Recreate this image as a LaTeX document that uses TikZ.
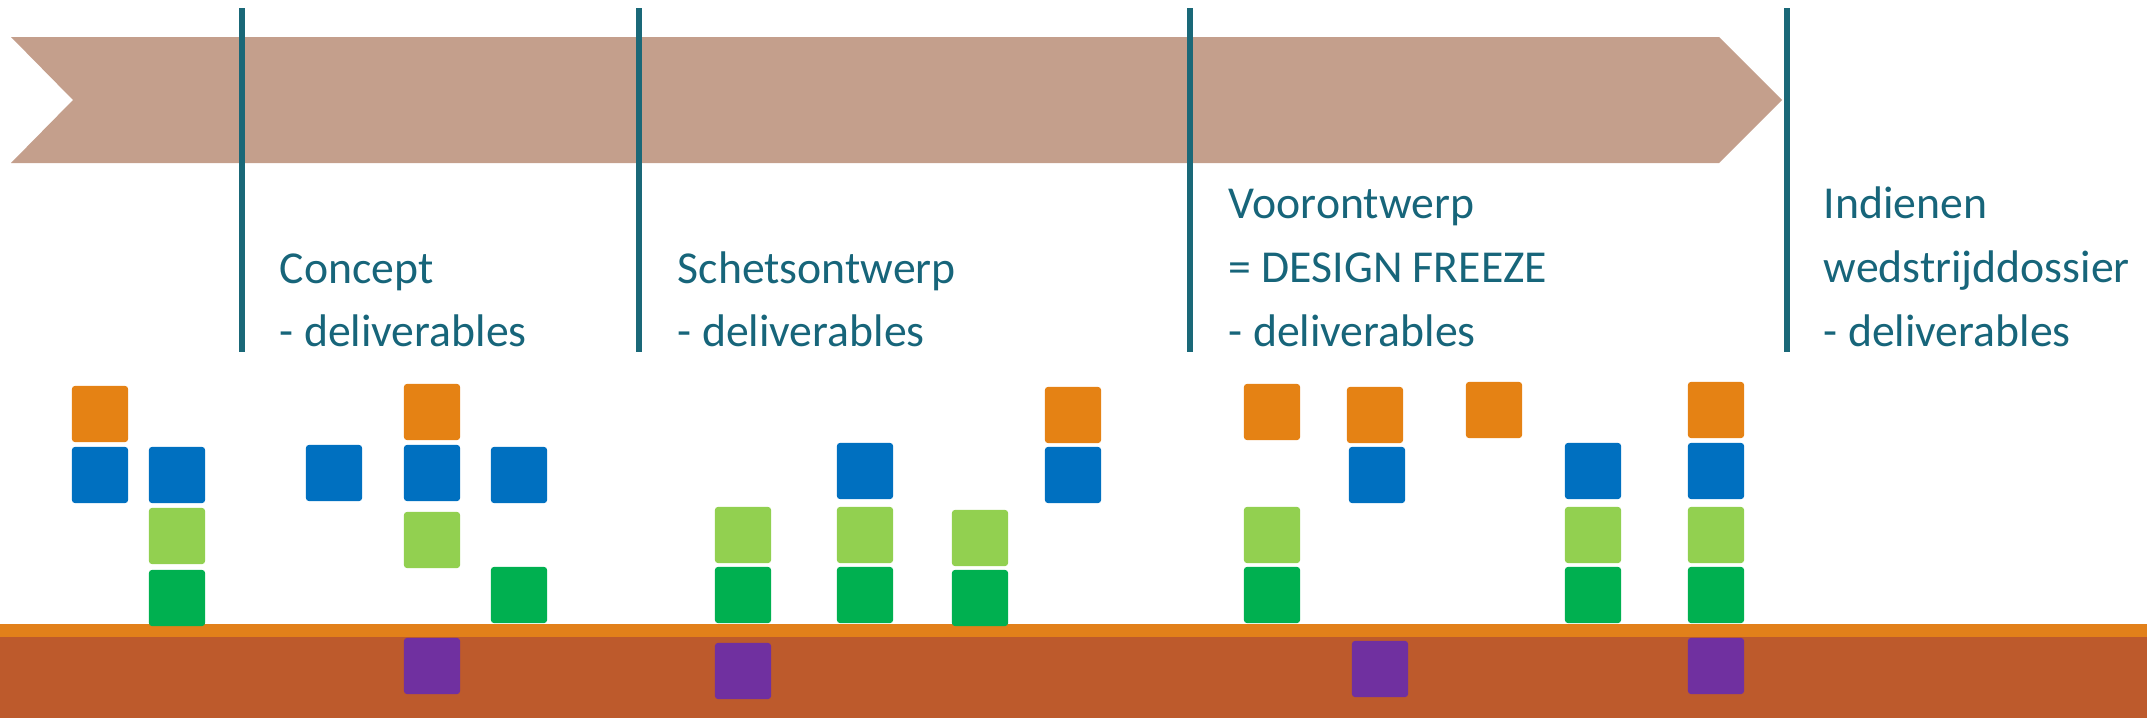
\documentclass[tikz,border=0pt]{standalone}
\usepackage{fontspec}
\setmainfont{Carlito}
\definecolor{arrowc}{HTML}{C49F8C}
\definecolor{teal}{HTML}{1A6878}
\definecolor{txt}{HTML}{17657A}
\definecolor{sqorange}{HTML}{E58214}
\definecolor{sqblue}{HTML}{0070C0}
\definecolor{sqlgreen}{HTML}{92D050}
\definecolor{sqgreen}{HTML}{00B050}
\definecolor{sqpurple}{HTML}{7030A0}
\definecolor{barorange}{HTML}{E2801A}
\definecolor{barbrown}{HTML}{BD5A2C}
\newcommand\sqr[4]{\node[sqbox, fill=#2] (#1) at (#3+28,#4+28) {};}
\begin{document}
\begin{tikzpicture}[x=0.01cm,y=-0.01cm,
  sqbox/.style={minimum width=0.56cm, minimum height=0.56cm, inner sep=0pt, rounded corners=0.8pt, draw=none},
  vline/.style={draw=teal, line width=1.5pt},
  lbl/.style={anchor=base west, inner sep=0pt, text=txt, font=\fontsize{13}{18}\selectfont}]
\useasboundingbox (0,0) rectangle (2147,718);
% arrow band
\fill[arrowc] (11,37) -- (1719,37) -- (1782,100) -- (1719,163) -- (11,163) -- (73,100) -- cycle;
% bottom bars
\fill[barorange] (0,624) rectangle (2147,637);
\fill[barbrown] (0,637) rectangle (2147,718);
% vertical milestone lines
\coordinate (l1t) at (242,8);  \coordinate (l1b) at (242,352);
\coordinate (l2t) at (639,8);  \coordinate (l2b) at (639,352);
\coordinate (l3t) at (1190,8); \coordinate (l3b) at (1190,352);
\coordinate (l4t) at (1787,8); \coordinate (l4b) at (1787,352);
\draw[vline] (l1t) -- (l1b);
\draw[vline] (l2t) -- (l2b);
\draw[vline] (l3t) -- (l3b);
\draw[vline] (l4t) -- (l4b);
% labels
\node[lbl] (t1a) at (279,283) {Concept};
\node[lbl] (t1b) at (279,346) {- deliverables};
\node[lbl] (t2a) at (677,283) {Schetsontwerp};
\node[lbl] (t2b) at (677,346) {- deliverables};
\node[lbl] (t3a) at (1228,218) {Voorontwerp};
\node[lbl] (t3b) at (1228,282) {= DESIGN FREEZE};
\node[lbl] (t3c) at (1228,346) {- deliverables};
\node[lbl] (t4a) at (1823,218) {Indienen};
\node[lbl] (t4b) at (1823,282) {wedstrijddossier};
\node[lbl] (t4c) at (1823,346) {- deliverables};
% squares
\sqr{c1o}{sqorange}{72}{386}
\sqr{c1b}{sqblue}{72}{447}
\sqr{c2b}{sqblue}{149}{447}
\sqr{c2l}{sqlgreen}{149}{508}
\sqr{c2g}{sqgreen}{149}{570}
\sqr{c3b}{sqblue}{306}{445}
\sqr{c4o}{sqorange}{404}{384}
\sqr{c4b}{sqblue}{404}{445}
\sqr{c4l}{sqlgreen}{404}{512}
\sqr{c4p}{sqpurple}{404}{638}
\sqr{c5b}{sqblue}{491}{447}
\sqr{c5g}{sqgreen}{491}{567}
\sqr{c6l}{sqlgreen}{715}{507}
\sqr{c6g}{sqgreen}{715}{567}
\sqr{c6p}{sqpurple}{715}{643}
\sqr{c7b}{sqblue}{837}{443}
\sqr{c7l}{sqlgreen}{837}{507}
\sqr{c7g}{sqgreen}{837}{567}
\sqr{c8l}{sqlgreen}{952}{510}
\sqr{c8g}{sqgreen}{952}{570}
\sqr{c9o}{sqorange}{1045}{387}
\sqr{c9b}{sqblue}{1045}{447}
\sqr{c10o}{sqorange}{1244}{384}
\sqr{c10l}{sqlgreen}{1244}{507}
\sqr{c10g}{sqgreen}{1244}{567}
\sqr{c11o}{sqorange}{1347}{387}
\sqr{c11b}{sqblue}{1349}{447}
\sqr{c11p}{sqpurple}{1352}{641}
\sqr{c12o}{sqorange}{1466}{382}
\sqr{c13b}{sqblue}{1565}{443}
\sqr{c13l}{sqlgreen}{1565}{507}
\sqr{c13g}{sqgreen}{1565}{567}
\sqr{c14o}{sqorange}{1688}{382}
\sqr{c14b}{sqblue}{1688}{443}
\sqr{c14l}{sqlgreen}{1688}{507}
\sqr{c14g}{sqgreen}{1688}{567}
\sqr{c14p}{sqpurple}{1688}{638}
\end{tikzpicture}
\end{document}
